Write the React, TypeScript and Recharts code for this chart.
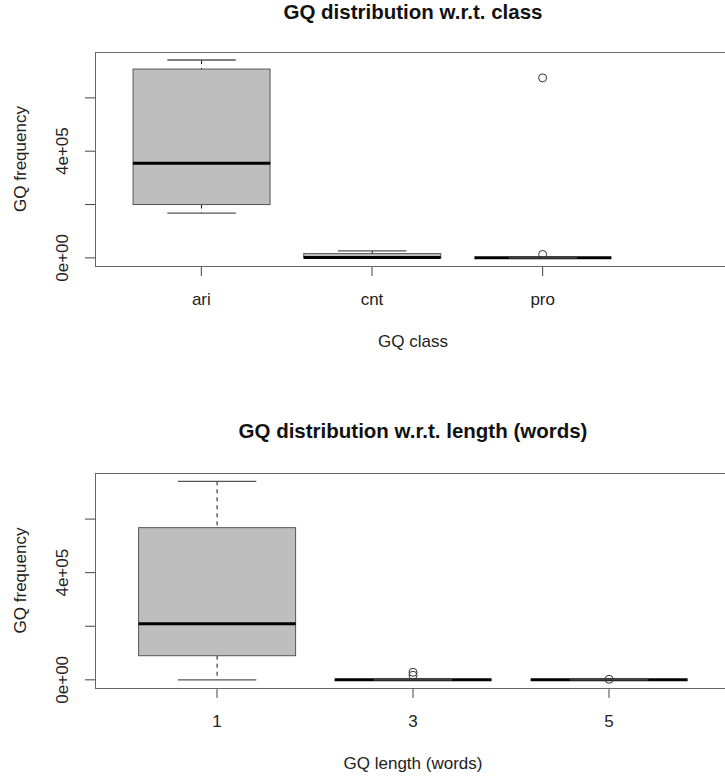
import { ComposedChart, Bar, Scatter, XAxis, YAxis } from "recharts";

// GQ class panel
const classNames = ["ari", "cnt", "pro"];
const classMin = [168000, 0, 0];
const classQ1 = [200000, 0, 0];
const classMedian = [355000, 1500, 0];
const classQ3 = [708000, 16000, 0];
const classMax = [742000, 26000, 0];
const classOutliers: number[][] = [[], [], [13000, 675000]];

// GQ length panel
const lengthNames = ["1", "3", "5"];
const lengthMin = [0, 0, 0];
const lengthQ1 = [90000, 0, 0];
const lengthMedian = [209000, 0, 0];
const lengthQ3 = [568000, 0, 0];
const lengthMax = [741000, 0, 0];
const lengthOutliers: number[][] = [[], [17000, 28000], [2000]];

const yTicks = [0, 200000, 400000, 600000];
const yTickLabels = ["0e+00", "", "4e+05", ""];
const yDomain = [-30500, 772000];

const FONT = '"Liberation Sans", Arial, Helvetica, sans-serif';
const EDGE = "#555";
const FILL = "#bebebe";

function buildRows(
  names: string[],
  mins: number[],
  q1s: number[],
  meds: number[],
  q3s: number[],
  maxs: number[],
  outs: number[][]
) {
  // stacked segments: base -> lower whisker -> lower box -> upper box -> upper whisker
  return names.map((name, i) => ({
    name,
    base: mins[i],
    lowW: q1s[i] - mins[i],
    lowBox: meds[i] - q1s[i],
    upBox: q3s[i] - meds[i],
    upW: maxs[i] - q3s[i],
    out1: outs[i][0] ?? null,
    out2: outs[i][1] ?? null,
  }));
}

const classRows = buildRows(classNames, classMin, classQ1, classMedian, classQ3, classMax, classOutliers);
const lengthRows = buildRows(lengthNames, lengthMin, lengthQ1, lengthMedian, lengthQ3, lengthMax, lengthOutliers);

function LowWhisker(p: any) {
  const cx = p.x + p.width / 2;
  const cap = p.width / 4;
  const bottom = p.y + p.height;
  return (
    <g>
      <line x1={cx} x2={cx} y1={p.y} y2={bottom} stroke="#111" strokeDasharray="4 4" />
      <line x1={cx - cap} x2={cx + cap} y1={bottom} y2={bottom} stroke={EDGE} strokeWidth={1.3} />
    </g>
  );
}

function HighWhisker(p: any) {
  const cx = p.x + p.width / 2;
  const cap = p.width / 4;
  return (
    <g>
      <line x1={cx} x2={cx} y1={p.y} y2={p.y + p.height} stroke="#111" strokeDasharray="4 4" />
      <line x1={cx - cap} x2={cx + cap} y1={p.y} y2={p.y} stroke={EDGE} strokeWidth={1.3} />
    </g>
  );
}

function LowBox(p: any) {
  return <rect x={p.x} y={p.y} width={p.width} height={Math.max(p.height, 0)} fill={FILL} stroke={EDGE} />;
}

function HighBox(p: any) {
  const med = p.y + p.height;
  return (
    <g>
      <rect x={p.x} y={p.y} width={p.width} height={Math.max(p.height, 0)} fill={FILL} stroke={EDGE} />
      <line x1={p.x} x2={p.x + p.width} y1={med} y2={med} stroke="#000" strokeWidth={3} />
    </g>
  );
}

const outlierShape = (key: string) => (p: any) =>
  p.payload == null || p.payload[key] == null ? (
    <g />
  ) : (
    <circle cx={p.cx} cy={p.cy} r={4} fill="none" stroke="#333" strokeWidth={1} />
  );

function XTick({ x, y, payload }: any) {
  return (
    <text x={x} y={y + 29} textAnchor="middle" fontSize={17} fill="#222">
      {payload.value}
    </text>
  );
}

function YTick({ x, y, payload }: any) {
  const label = yTickLabels[yTicks.indexOf(payload.value)];
  if (!label) return <g />;
  const lx = x - 22;
  return (
    <text
      x={lx}
      y={y}
      transform={`rotate(-90, ${lx}, ${y})`}
      textAnchor="middle"
      dominantBaseline="central"
      fontSize={17}
      fill="#222"
    >
      {label}
    </text>
  );
}

interface PanelProps {
  rows: any[];
  title: string;
  xLabel: string;
  top: number;
  height: number;
  plotTop: number;
  xAxisHeight: number;
  titleTop: number;
  padLeft: number;
  padRight: number;
}

function BoxPanel({ rows, title, xLabel, top, height, plotTop, xAxisHeight, titleTop, padLeft, padRight }: PanelProps) {
  const width = 760;
  const plotLeft = 95;
  const plotRight = 731;
  const plotBottom = height - xAxisHeight;
  return (
    <>
      <div
        style={{
          position: "absolute",
          left: plotLeft,
          width: plotRight - plotLeft,
          top: titleTop,
          textAlign: "center",
          fontWeight: "bold",
          fontSize: 20.5,
          lineHeight: 1,
          color: "#111",
          whiteSpace: "nowrap",
        }}
      >
        {title}
      </div>
      <div style={{ position: "absolute", left: 0, top }}>
        <ComposedChart
          width={width}
          height={height}
          data={rows}
          margin={{ top: plotTop, right: width - plotRight, bottom: 0, left: 0 }}
          barCategoryGap="10%"
        >
          <XAxis
            dataKey="name"
            type="category"
            height={xAxisHeight}
            axisLine={false}
            tickLine={{ stroke: "#444" }}
            tickSize={10}
            tickMargin={0}
            padding={{ left: padLeft, right: padRight }}
            tick={<XTick />}
            interval={0}
            label={{
              content: (lp: any) => {
                const vb = lp.viewBox;
                return (
                  <text x={vb.x + vb.width / 2} y={vb.y + 81} textAnchor="middle" fontSize={17} fill="#222">
                    {xLabel}
                  </text>
                );
              },
            }}
          />
          <YAxis
            type="number"
            width={plotLeft}
            domain={yDomain}
            allowDataOverflow
            ticks={yTicks}
            interval={0}
            axisLine={false}
            tickLine={{ stroke: "#444" }}
            tickSize={10}
            tickMargin={0}
            tick={<YTick />}
            label={{
              content: (lp: any) => {
                const vb = lp.viewBox;
                const cy = vb.y + vb.height / 2;
                return (
                  <text
                    x={20}
                    y={cy}
                    transform={`rotate(-90, 20, ${cy})`}
                    textAnchor="middle"
                    dominantBaseline="central"
                    fontSize={17}
                    fill="#222"
                  >
                    GQ frequency
                  </text>
                );
              },
            }}
          />
          <Bar dataKey="base" stackId="box" fill="none" isAnimationActive={false} />
          <Bar dataKey="lowW" stackId="box" shape={LowWhisker} isAnimationActive={false} />
          <Bar dataKey="lowBox" stackId="box" shape={LowBox} isAnimationActive={false} />
          <Bar dataKey="upBox" stackId="box" shape={HighBox} isAnimationActive={false} />
          <Bar dataKey="upW" stackId="box" shape={HighWhisker} isAnimationActive={false} />
          <Scatter dataKey="out1" shape={outlierShape("out1")} isAnimationActive={false} />
          <Scatter dataKey="out2" shape={outlierShape("out2")} isAnimationActive={false} />
        </ComposedChart>
      </div>
      <div
        style={{
          position: "absolute",
          left: plotLeft,
          top: top + plotTop,
          width: plotRight - plotLeft + 40,
          height: plotBottom - plotTop + 1,
          border: "1px solid #666",
          borderRight: "none",
          boxSizing: "border-box",
          pointerEvents: "none",
        }}
      />
    </>
  );
}

export default function App() {
  return (
    <div
      style={{
        position: "fixed",
        left: 0,
        top: 0,
        width: 725,
        height: 783,
        overflow: "hidden",
        background: "#fff",
        fontFamily: FONT,
      }}
    >
      <BoxPanel
        rows={classRows}
        title="GQ distribution w.r.t. class"
        xLabel="GQ class"
        top={0}
        height={360}
        plotTop={52}
        xAxisHeight={94}
        titleTop={2}
        padLeft={21}
        padRight={103}
      />
      <BoxPanel
        rows={lengthRows}
        title="GQ distribution w.r.t. length (words)"
        xLabel="GQ length (words)"
        top={400}
        height={383}
        plotTop={73}
        xAxisHeight={95}
        titleTop={421}
        padLeft={24}
        padRight={24}
      />
    </div>
  );
}
